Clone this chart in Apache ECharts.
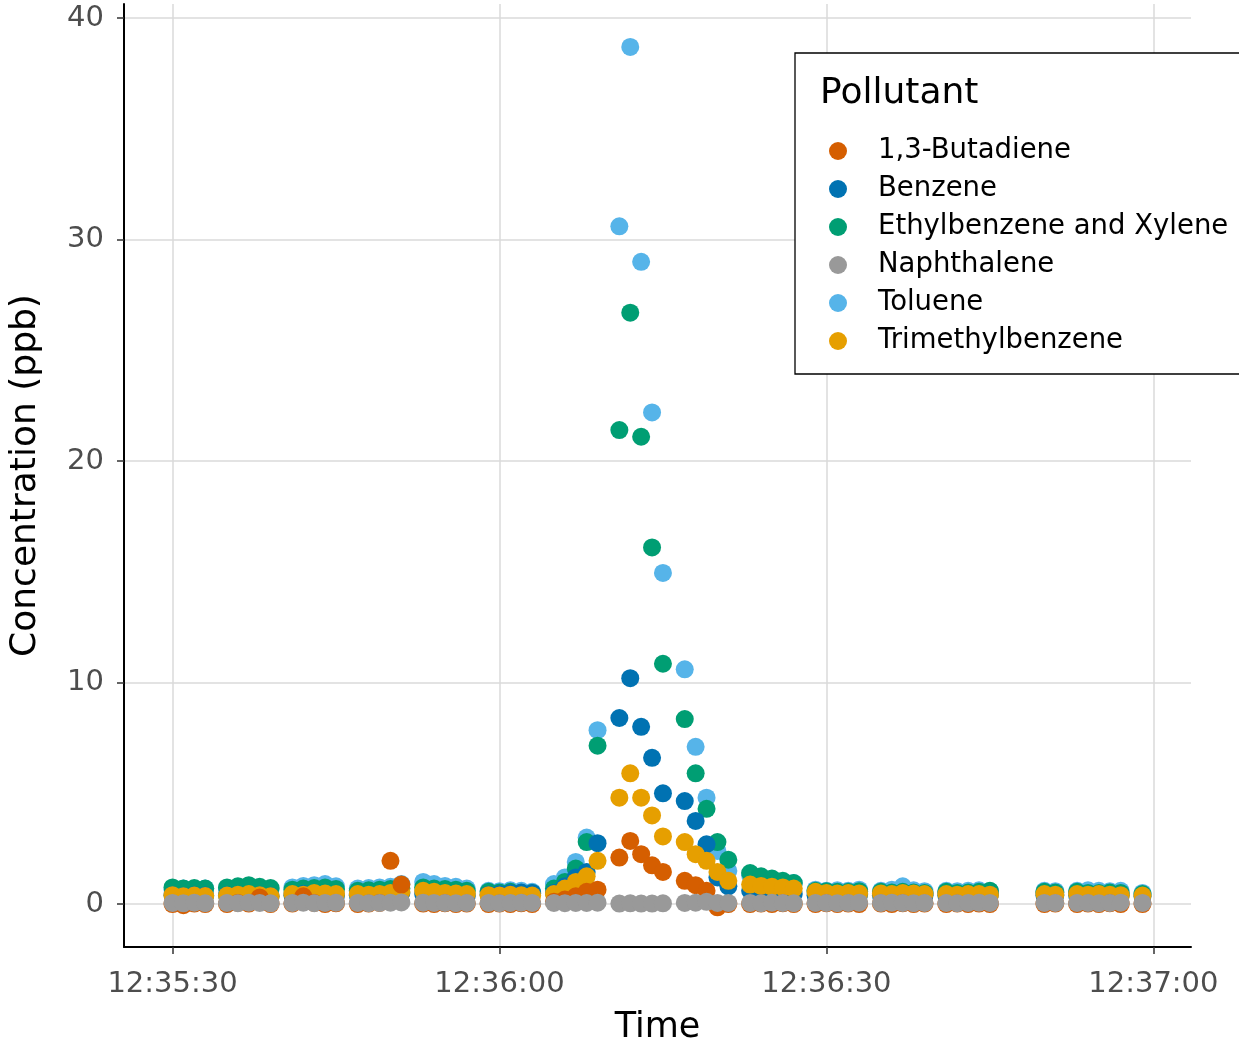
<!DOCTYPE html>
<html>
<head>
<meta charset="utf-8">
<script src="https://cdn.jsdelivr.net/npm/echarts@6/dist/echarts.min.js"></script>
<style>
html,body{margin:0;padding:0;background:#fff;}
#chart{width:1239px;height:1050px;}
</style>
</head>
<body>
<div id="chart"></div>
<script>
// ---- data ----
const times = [
 "12:35:30","12:35:31","12:35:32","12:35:33",
 "12:35:35","12:35:36","12:35:37","12:35:38","12:35:39",
 "12:35:41","12:35:42","12:35:43","12:35:44","12:35:45",
 "12:35:47","12:35:48","12:35:49","12:35:50","12:35:51",
 "12:35:53","12:35:54","12:35:55","12:35:56","12:35:57",
 "12:35:59","12:36:00","12:36:01","12:36:02","12:36:03",
 "12:36:05","12:36:06","12:36:07","12:36:08","12:36:09",
 "12:36:11","12:36:12","12:36:13","12:36:14","12:36:15",
 "12:36:17","12:36:18","12:36:19","12:36:20","12:36:21",
 "12:36:23","12:36:24","12:36:25","12:36:26","12:36:27",
 "12:36:29","12:36:30","12:36:31","12:36:32","12:36:33",
 "12:36:35","12:36:36","12:36:37","12:36:38","12:36:39",
 "12:36:41","12:36:42","12:36:43","12:36:44","12:36:45",
 "12:36:50","12:36:51",
 "12:36:53","12:36:54","12:36:55","12:36:56","12:36:57",
 "12:36:59"
];
const butadiene = [
 0.0,-0.05,0.02,0.0,
 0.0,0.05,0.02,0.3,0.0,
 0.02,0.35,0.05,0.0,0.03,
 0.0,0.02,0.05,1.95,0.88,
 0.02,0.0,0.03,0.0,0.02,
 0.0,0.02,0.0,0.03,0.0,
 0.1,0.2,0.35,0.55,0.65,
 2.1,2.85,2.25,1.75,1.45,
 1.05,0.85,0.6,-0.15,0.0,
 0.0,0.02,0.0,0.03,0.0,
 0.0,0.03,0.0,0.02,0.0,
 0.02,0.0,0.03,0.0,0.02,
 0.0,0.02,0.0,0.02,0.0,
 0.0,0.02,
 0.0,0.02,0.0,0.03,0.0,
 0.0
];
const benzene = [
 0.4,0.35,0.4,0.38,
 0.4,0.42,0.38,0.4,0.35,
 0.4,0.45,0.42,0.4,0.38,
 0.4,0.38,0.42,0.45,0.5,
 0.45,0.42,0.4,0.38,0.36,
 0.42,0.45,0.5,0.52,0.5,
 0.5,0.8,1.2,1.45,2.75,
 8.4,10.2,8.0,6.6,5.0,
 4.65,3.75,2.7,1.2,0.8,
 0.6,0.55,0.5,0.5,0.45,
 0.4,0.4,0.38,0.4,0.42,
 0.4,0.38,0.4,0.42,0.4,
 0.4,0.38,0.4,0.4,0.42,
 0.4,0.4,
 0.4,0.38,0.4,0.4,0.38,
 0.35
];
const ethylXylene = [
 0.75,0.7,0.72,0.7,
 0.75,0.8,0.85,0.78,0.72,
 0.65,0.7,0.72,0.75,0.68,
 0.6,0.62,0.65,0.68,0.7,
 0.75,0.7,0.68,0.65,0.6,
 0.55,0.52,0.55,0.5,0.5,
 0.7,1.0,1.6,2.8,7.15,
 21.4,26.7,21.1,16.1,10.85,
 8.35,5.9,4.3,2.8,2.0,
 1.4,1.25,1.15,1.05,0.95,
 0.6,0.58,0.55,0.55,0.58,
 0.55,0.52,0.55,0.52,0.5,
 0.55,0.5,0.52,0.55,0.6,
 0.55,0.52,
 0.55,0.5,0.5,0.52,0.5,
 0.45
];
const naphthalene = [
 0.05,0.03,0.06,0.04,
 0.05,0.04,0.06,0.05,0.03,
 0.05,0.06,0.04,0.05,0.06,
 0.05,0.04,0.05,0.06,0.07,
 0.06,0.05,0.05,0.04,0.05,
 0.05,0.04,0.05,0.06,0.05,
 0.05,0.04,0.05,0.05,0.06,
 0.02,0.03,0.02,0.02,0.03,
 0.05,0.06,0.1,0.05,0.05,
 0.05,0.04,0.06,0.05,0.04,
 0.05,0.05,0.04,0.05,0.06,
 0.05,0.06,0.05,0.04,0.05,
 0.05,0.04,0.05,0.06,0.05,
 0.05,0.05,
 0.05,0.05,0.04,0.05,0.06,
 0.05
];
const toluene = [
 0.65,0.7,0.6,0.7,
 0.7,0.72,0.75,0.7,0.68,
 0.75,0.82,0.85,0.9,0.8,
 0.7,0.72,0.75,0.78,0.9,
 1.0,0.9,0.82,0.78,0.7,
 0.6,0.58,0.62,0.6,0.55,
 0.9,1.2,1.9,3.0,7.85,
 30.6,38.7,29.0,22.2,14.95,
 10.6,7.1,4.8,2.4,1.5,
 1.3,1.2,1.1,1.0,0.95,
 0.65,0.6,0.62,0.6,0.65,
 0.6,0.65,0.8,0.62,0.58,
 0.6,0.58,0.6,0.62,0.58,
 0.6,0.58,
 0.6,0.62,0.6,0.58,0.6,
 0.5
];
const trimethylbenzene = [
 0.4,0.35,0.38,0.36,
 0.38,0.42,0.45,0.4,0.35,
 0.45,0.42,0.5,0.48,0.45,
 0.45,0.42,0.45,0.5,0.55,
 0.6,0.55,0.5,0.48,0.45,
 0.4,0.38,0.42,0.4,0.38,
 0.45,0.7,1.0,1.25,1.95,
 4.8,5.9,4.8,4.0,3.05,
 2.8,2.25,1.95,1.45,1.05,
 0.88,0.82,0.78,0.75,0.7,
 0.55,0.5,0.48,0.5,0.48,
 0.48,0.45,0.5,0.48,0.45,
 0.45,0.42,0.45,0.45,0.42,
 0.45,0.42,
 0.45,0.42,0.45,0.42,0.4,
 0.38
];
const xTickLabels = ["12:35:30","12:36:00","12:36:30","12:37:00"];
const yTicks = [0,10,20,30,40];
const legendNames = ["1,3-Butadiene","Benzene","Ethylbenzene and Xylene","Naphthalene","Toluene","Trimethylbenzene"];

// ---- helpers ----
function toSec(s){const p=s.split(':').map(Number);return p[0]*3600+p[1]*60+p[2];}
function fmt(v){v=Math.round(v);const h=Math.floor(v/3600),m=Math.floor((v%3600)/60),s=v%60;
 const z=n=>(n<10?'0':'')+n;return h+':'+z(m)+':'+z(s);}
const xs = times.map(toSec);
const xMinD = Math.min(...xs), xMaxD = Math.max(...xs);
const xPad = (xMaxD-xMinD)*0.05;
const xTickVals = xTickLabels.map(toSec);

const FONT = 'DejaVu Sans';
const colors = {
 "1,3-Butadiene":"#D55E00",
 "Benzene":"#0072B2",
 "Ethylbenzene and Xylene":"#009E73",
 "Naphthalene":"#999999",
 "Toluene":"#56B4E9",
 "Trimethylbenzene":"#E69F00"
};
const seriesVals = {
 "1,3-Butadiene":butadiene,
 "Benzene":benzene,
 "Ethylbenzene and Xylene":ethylXylene,
 "Naphthalene":naphthalene,
 "Toluene":toluene,
 "Trimethylbenzene":trimethylbenzene
};
// drawing order (bottom -> top)
const drawOrder = ["Toluene","Ethylbenzene and Xylene","Benzene","Trimethylbenzene","1,3-Butadiene","Naphthalene"];

const series = drawOrder.map(name => ({
 name: name,
 type: 'scatter',
 symbol: 'circle',
 symbolSize: 18,
 itemStyle: {color: colors[name], opacity: 1},
 emphasis: {disabled: true},
 data: xs.map((x,i)=>[x, seriesVals[name][i]])
}));

const chart = echarts.init(document.getElementById('chart'), null, {renderer:'canvas'});
chart.setOption({
 animation: false,
 backgroundColor: '#ffffff',
 grid: {left:122, right:48, top:4, bottom:102, containLabel:false},
 title: {
  text: 'Pollutant', left: 820, top: 76, padding: 0, z: 10,
  textStyle: {fontFamily: FONT, fontSize: 36, fontWeight: 'normal', color: '#000'}
 },
 legend: {
  data: legendNames,
  left: 795, top: 53,
  orient: 'vertical',
  padding: [84, 70, 19, 34],
  itemWidth: 70, itemHeight: 18, itemGap: 10,
  icon: 'circle',
  selectedMode: false,
  backgroundColor: '#fff',
  borderColor: '#000', borderWidth: 1.3, borderRadius: 0,
  textStyle: {fontFamily: FONT, fontSize: 27.5, color: '#000'}
 },
 xAxis: {
  type: 'value',
  min: xMinD - xPad, max: xMaxD + xPad,
  name: 'Time', nameLocation: 'middle', nameGap: 63,
  nameTextStyle: {fontFamily: FONT, fontSize: 35, color: '#000'},
  axisLine: {show: true, onZero: false, lineStyle: {color: '#000', width: 2}},
  axisTick: {show: true, length: 7, customValues: xTickVals, lineStyle: {color: '#333', width: 1.5}},
  axisLabel: {customValues: xTickVals, formatter: v => fmt(v), margin: 23,
   fontFamily: FONT, fontSize: 29, color: '#4D4D4D'},
  splitLine: {show: true, lineStyle: {color: '#DADADA', width: 1.5}}
 },
 yAxis: {
  type: 'value',
  min: -1.94, max: 40.64,
  name: 'Concentration (ppb)', nameLocation: 'middle', nameGap: 80,
  nameTextStyle: {fontFamily: FONT, fontSize: 36, color: '#000'},
  axisLine: {show: true, onZero: false, lineStyle: {color: '#000', width: 2}},
  axisTick: {show: true, length: 7, customValues: yTicks, lineStyle: {color: '#333', width: 1.5}},
  axisLabel: {customValues: yTicks, margin: 20, fontFamily: FONT, fontSize: 29, color: '#4D4D4D'},
  splitLine: {show: true, lineStyle: {color: '#DADADA', width: 1.5}}
 },
 series: series
});
</script>
</body>
</html>
